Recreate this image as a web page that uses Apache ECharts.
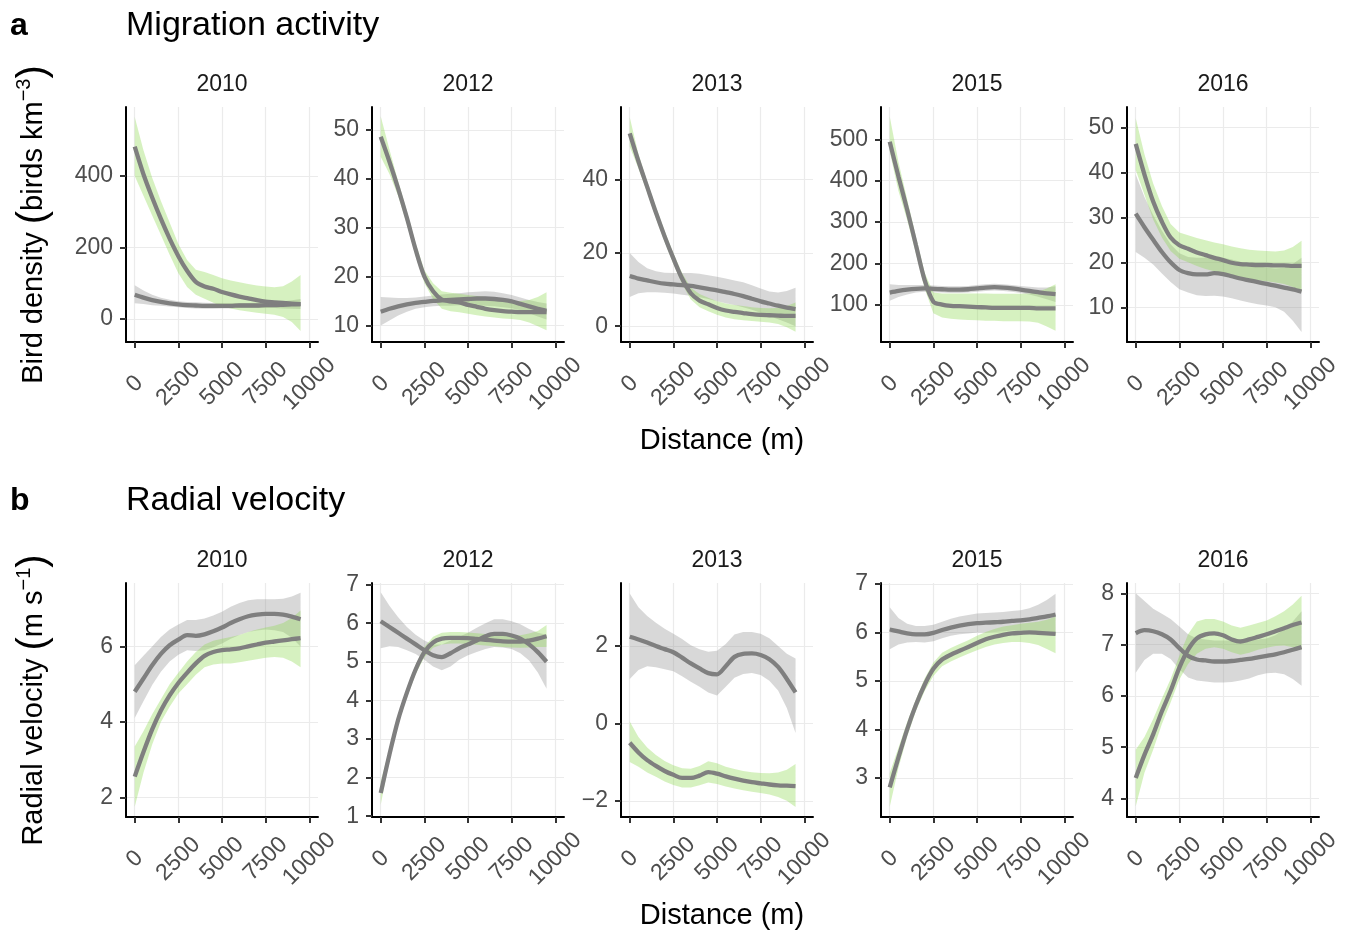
<!DOCTYPE html>
<html>
<head>
<meta charset="utf-8">
<script src="https://cdn.jsdelivr.net/npm/echarts@6/dist/echarts.min.js"></script>
<style>
  html, body { margin: 0; padding: 0; background: #ffffff; }
  #chart { width: 1349px; height: 935px; }
</style>
</head>
<body>
<div id="chart"></div>
<script>
// ---------------------------------------------------------------------------
// Data: smoothed fits with confidence bands, per year, against distance (m)
// ---------------------------------------------------------------------------
const years = ['2010', '2012', '2013', '2015', '2016'];
const distance = [0, 500, 1000, 1500, 2000, 2500, 3000, 3500, 4000, 4500,
                  5000, 5500, 6000, 6500, 7000, 7500, 8000, 8500, 9000, 9500];
const distanceTicks = [0, 2500, 5000, 7500, 10000];
const densityTicks = [[0, 200, 400], [10, 20, 30, 40, 50], [0, 20, 40],
                      [100, 200, 300, 400, 500], [10, 20, 30, 40, 50]];
const velocityTicks = [[2, 4, 6], [1, 2, 3, 4, 5, 6, 7], [-2, 0, 2],
                       [3, 4, 5, 6, 7], [4, 5, 6, 7, 8]];

// Bird density (birds km^-3)
const dens2010Green   = [482, 405, 340, 280, 225, 176, 135, 104, 91, 85, 76, 69, 63, 58, 53, 49, 47, 45, 43, 42];
const dens2010GreenHi = [565, 472, 395, 330, 270, 210, 165, 138, 132, 123, 114, 108, 103, 98, 94, 91, 89, 92, 105, 123];
const dens2010GreenLo = [400, 345, 290, 235, 180, 128, 90, 68, 57, 46, 36, 30, 25, 21, 18, 15, 12, 6, -8, -33];
const dens2010Grey    = [68, 60, 53, 48, 44, 41, 39, 38, 37, 37, 37, 37, 38, 38, 38, 39, 39, 40, 41, 42];
const dens2010GreyHi  = [95, 80, 68, 60, 54, 50, 48, 47, 46, 45, 44, 44, 45, 45, 46, 47, 48, 50, 53, 56];
const dens2010GreyLo  = [44, 42, 39, 37, 35, 33, 31, 30, 29, 29, 30, 30, 31, 31, 31, 31, 31, 30, 29, 28];

const dens2012Green   = [48.6, 43.5, 38, 32, 25.5, 20, 17, 15.3, 14.9, 14.7, 14.2, 13.8, 13.4, 13.1, 12.9, 12.8, 12.7, 12.7, 12.7, 12.7];
const dens2012GreenHi = [52.8, 46, 39.5, 33.3, 26.8, 21.3, 18.6, 17, 16.7, 16.5, 16.2, 16, 15.8, 15.5, 15.2, 15, 15, 15.2, 15.8, 16.8];
const dens2012GreenLo = [44.5, 41, 36.5, 30.7, 24.2, 18.7, 15.4, 13.4, 12.9, 12.7, 12.4, 12.1, 11.8, 11.6, 11.4, 11.3, 11.1, 10.6, 9.8, 9];
const dens2012Grey    = [12.8, 13.4, 13.9, 14.3, 14.6, 14.8, 15, 15.1, 15.2, 15.3, 15.4, 15.5, 15.5, 15.4, 15.2, 14.9, 14.4, 13.9, 13.4, 13];
const dens2012GreyHi  = [15.8, 15.7, 15.6, 15.6, 15.7, 15.9, 16.1, 16.3, 16.5, 16.6, 16.8, 16.9, 17, 16.9, 16.6, 16.2, 15.7, 15.2, 14.8, 14.5];
const dens2012GreyLo  = [10, 11, 12, 12.8, 13.4, 13.7, 13.9, 14, 14, 14.1, 14.1, 14.1, 14, 13.9, 13.7, 13.5, 13.1, 12.5, 11.8, 11.2];

const dens2013Green   = [52.6, 45, 38, 31, 24.5, 18.5, 13, 9, 7, 6, 5, 4.3, 3.9, 3.6, 3.3, 3.1, 3, 2.9, 2.8, 2.8];
const dens2013GreenHi = [57, 47, 39.5, 32.5, 26, 20, 14.5, 10.5, 8.8, 7.8, 6.8, 6.2, 5.8, 5.5, 5.2, 5, 4.9, 5, 5.5, 6.5];
const dens2013GreenLo = [49, 43, 36.5, 29.5, 23, 17, 11.5, 7.3, 5.2, 4.1, 3.1, 2.4, 1.9, 1.6, 1.4, 1.2, 1, 0.6, -0.3, -1.5];
const dens2013Grey    = [13.7, 13, 12.5, 12, 11.6, 11.4, 11.2, 11, 10.6, 10.2, 9.8, 9.3, 8.8, 8.2, 7.5, 6.8, 6.2, 5.6, 5.1, 4.7];
const dens2013GreyHi  = [20, 17.5, 15.8, 15, 14.6, 14.5, 14.5, 14.5, 14.3, 13.9, 13.5, 13, 12.5, 12, 11.2, 10.3, 9.5, 9.2, 9.6, 10.5];
const dens2013GreyLo  = [8, 9, 9.3, 9.3, 9.1, 8.9, 8.6, 8.3, 7.9, 7.4, 6.8, 6.3, 5.8, 5.2, 4.5, 3.7, 2.8, 1.9, 1, 0];

const dens2015Green   = [494, 410, 330, 245, 160, 108, 101, 98, 97, 96, 95, 94, 93, 93, 93, 93, 93, 92, 92, 92];
const dens2015GreenHi = [555, 445, 355, 265, 178, 130, 128, 128, 128, 128, 128, 128, 127, 127, 127, 127, 128, 132, 140, 150];
const dens2015GreenLo = [470, 375, 305, 225, 140, 80, 70, 67, 65, 64, 63, 62, 62, 61, 61, 61, 60, 57, 48, 38];
const dens2015Grey    = [130, 134, 137, 139, 140, 139, 138, 137, 137, 138, 140, 142, 143, 142, 140, 137, 134, 131, 128, 126];
const dens2015GreyHi  = [150, 148, 148, 148, 148, 147, 146, 145, 145, 146, 148, 150, 151, 150, 148, 146, 144, 142, 142, 145];
const dens2015GreyLo  = [110, 119, 125, 130, 132, 131, 130, 129, 129, 130, 132, 134, 135, 134, 132, 129, 125, 120, 114, 107];

const dens2016Green   = [46.3, 39.5, 33.5, 29, 25.5, 23.8, 23, 22.2, 21.6, 21, 20.5, 19.9, 19.6, 19.5, 19.4, 19.4, 19.3, 19.3, 19.2, 19.2];
const dens2016GreenHi = [52, 44, 37.5, 32.5, 28.5, 26.6, 26, 25.4, 24.9, 24.4, 24, 23.5, 23.1, 22.8, 22.6, 22.5, 22.4, 22.6, 23.4, 24.8];
const dens2016GreenLo = [40.5, 35, 29.5, 25.5, 22.5, 20.8, 20, 19.2, 18.5, 18, 17.5, 16.9, 16.5, 16.2, 16, 15.8, 15.5, 15.2, 14.5, 13.6];
const dens2016Grey    = [30.8, 27.8, 25, 22.3, 20, 18.3, 17.6, 17.3, 17.3, 17.6, 17.4, 16.9, 16.4, 16, 15.6, 15.2, 14.8, 14.4, 14, 13.5];
const dens2016GreyHi  = [39.5, 34.5, 30.5, 27, 24, 22, 21.2, 21, 21, 21, 21, 20.6, 20.1, 19.6, 19.2, 18.8, 18.6, 18.8, 19.6, 21];
const dens2016GreyLo  = [22.3, 21, 19.5, 17.5, 15.6, 14, 13.3, 12.7, 12.5, 12.6, 12.4, 12, 11.5, 11.1, 10.7, 10.4, 10, 9, 7, 4.5];

// Radial velocity (m s^-1)
const vel2010Green   = [2.55, 3.2, 3.8, 4.3, 4.7, 5.03, 5.3, 5.55, 5.75, 5.85, 5.9, 5.92, 5.95, 6, 6.05, 6.1, 6.13, 6.16, 6.19, 6.22];
const vel2010GreenHi = [3.35, 3.75, 4.2, 4.6, 5, 5.3, 5.6, 5.85, 6.05, 6.15, 6.2, 6.25, 6.3, 6.38, 6.45, 6.5, 6.55, 6.62, 6.75, 6.95];
const vel2010GreenLo = [1.75, 2.65, 3.4, 4, 4.4, 4.75, 5, 5.25, 5.45, 5.52, 5.55, 5.55, 5.58, 5.62, 5.66, 5.7, 5.72, 5.7, 5.6, 5.45];
const vel2010Grey    = [4.8, 5.15, 5.5, 5.8, 6.03, 6.18, 6.3, 6.28, 6.32, 6.4, 6.5, 6.62, 6.72, 6.8, 6.84, 6.86, 6.86, 6.84, 6.79, 6.72];
const vel2010GreyHi  = [5.5, 5.75, 6, 6.25, 6.45, 6.58, 6.7, 6.7, 6.74, 6.82, 6.92, 7.05, 7.15, 7.22, 7.25, 7.25, 7.25, 7.26, 7.32, 7.42];
const vel2010GreyLo  = [4.1, 4.55, 4.98, 5.33, 5.6, 5.78, 5.9, 5.88, 5.9, 5.98, 6.08, 6.2, 6.3, 6.38, 6.42, 6.45, 6.43, 6.38, 6.23, 6];

const vel2012Green   = [1.6, 2.6, 3.5, 4.2, 4.8, 5.25, 5.5, 5.6, 5.62, 5.62, 5.61, 5.59, 5.57, 5.55, 5.53, 5.52, 5.52, 5.55, 5.6, 5.66];
const vel2012GreenHi = [1.9, 2.75, 3.62, 4.32, 4.92, 5.38, 5.65, 5.75, 5.77, 5.77, 5.76, 5.74, 5.72, 5.7, 5.68, 5.68, 5.69, 5.73, 5.8, 5.95];
const vel2012GreenLo = [1.3, 2.45, 3.38, 4.08, 4.68, 5.12, 5.36, 5.45, 5.47, 5.47, 5.46, 5.44, 5.42, 5.4, 5.38, 5.37, 5.36, 5.37, 5.38, 5.38];
const vel2012Grey    = [6.05, 5.9, 5.75, 5.6, 5.45, 5.3, 5.17, 5.12, 5.22, 5.35, 5.45, 5.55, 5.66, 5.72, 5.72, 5.68, 5.6, 5.45, 5.25, 5];
const vel2012GreyHi  = [6.8, 6.45, 6.15, 5.9, 5.7, 5.55, 5.45, 5.45, 5.55, 5.65, 5.75, 5.88, 6, 6.1, 6.1, 6.05, 5.97, 5.85, 5.75, 5.7];
const vel2012GreyLo  = [5.35, 5.4, 5.38, 5.3, 5.2, 5.05, 4.88, 4.78, 4.88, 5.05, 5.17, 5.25, 5.33, 5.38, 5.37, 5.33, 5.22, 5.03, 4.72, 4.3];

const vel2013Green   = [-0.5, -0.75, -0.95, -1.1, -1.23, -1.33, -1.41, -1.41, -1.35, -1.26, -1.3, -1.37, -1.43, -1.48, -1.52, -1.55, -1.58, -1.6, -1.61, -1.62];
const vel2013GreenHi = [0.05, -0.35, -0.62, -0.82, -0.97, -1.08, -1.16, -1.17, -1.1, -0.98, -1.03, -1.12, -1.18, -1.23, -1.26, -1.28, -1.29, -1.27, -1.2, -1.05];
const vel2013GreenLo = [-1, -1.12, -1.27, -1.38, -1.5, -1.59, -1.66, -1.66, -1.6, -1.53, -1.57, -1.63, -1.68, -1.73, -1.77, -1.8, -1.84, -1.9, -2, -2.16];
const vel2013Grey    = [2.24, 2.17, 2.09, 2, 1.92, 1.84, 1.7, 1.55, 1.42, 1.3, 1.27, 1.48, 1.72, 1.8, 1.81, 1.77, 1.66, 1.46, 1.15, 0.8];
const vel2013GreyHi  = [3.36, 3, 2.78, 2.6, 2.45, 2.32, 2.18, 2.02, 1.92, 1.85, 1.88, 2.05, 2.3, 2.36, 2.36, 2.32, 2.2, 2, 1.8, 1.68];
const vel2013GreyLo  = [1.15, 1.38, 1.48, 1.45, 1.4, 1.35, 1.22, 1.08, 0.95, 0.8, 0.72, 0.95, 1.18, 1.28, 1.3, 1.25, 1.1, 0.85, 0.4, -0.25];

const vel2015Green   = [2.8, 3.42, 4, 4.5, 4.92, 5.25, 5.44, 5.54, 5.62, 5.7, 5.78, 5.86, 5.91, 5.95, 5.98, 5.99, 6, 5.99, 5.98, 5.97];
const vel2015GreenHi = [3.1, 3.62, 4.15, 4.62, 5.05, 5.38, 5.58, 5.68, 5.76, 5.84, 5.93, 6.01, 6.07, 6.12, 6.15, 6.18, 6.2, 6.22, 6.26, 6.33];
const vel2015GreenLo = [2.4, 3.2, 3.85, 4.38, 4.79, 5.1, 5.3, 5.4, 5.48, 5.56, 5.63, 5.7, 5.75, 5.78, 5.8, 5.8, 5.78, 5.74, 5.66, 5.57];
const vel2015Grey    = [6.06, 6.02, 5.98, 5.96, 5.96, 5.99, 6.05, 6.1, 6.14, 6.17, 6.19, 6.2, 6.21, 6.22, 6.24, 6.25, 6.27, 6.3, 6.33, 6.37];
const vel2015GreyHi  = [6.52, 6.3, 6.18, 6.13, 6.13, 6.16, 6.22, 6.28, 6.33, 6.36, 6.39, 6.4, 6.41, 6.42, 6.44, 6.46, 6.5, 6.57, 6.67, 6.8];
const vel2015GreyLo  = [5.65, 5.75, 5.79, 5.8, 5.79, 5.82, 5.88, 5.93, 5.96, 5.98, 6, 6, 6.01, 6.02, 6.04, 6.04, 6.04, 6.03, 6, 5.95];

const vel2016Green   = [4.4, 4.85, 5.25, 5.7, 6.1, 6.55, 6.9, 7.12, 7.2, 7.22, 7.18, 7.1, 7.06, 7.1, 7.15, 7.2, 7.26, 7.32, 7.38, 7.43];
const vel2016GreenHi = [4.95, 5.2, 5.55, 5.95, 6.33, 6.78, 7.2, 7.45, 7.5, 7.5, 7.45, 7.37, 7.33, 7.37, 7.42, 7.47, 7.55, 7.65, 7.78, 7.95];
const vel2016GreenLo = [3.85, 4.5, 4.95, 5.45, 5.87, 6.32, 6.62, 6.82, 6.92, 6.95, 6.92, 6.85, 6.8, 6.84, 6.9, 6.94, 6.97, 6.98, 6.95, 6.9];
const vel2016Grey    = [7.22, 7.28, 7.26, 7.2, 7.1, 6.93, 6.78, 6.71, 6.69, 6.67, 6.67, 6.68, 6.7, 6.72, 6.75, 6.78, 6.81, 6.85, 6.9, 6.95];
const vel2016GreyHi  = [8, 7.85, 7.7, 7.6, 7.5, 7.35, 7.2, 7.12, 7.1, 7.08, 7.08, 7.08, 7.09, 7.1, 7.1, 7.12, 7.18, 7.3, 7.45, 7.65];
const vel2016GreyLo  = [6.45, 6.7, 6.82, 6.82, 6.72, 6.52, 6.36, 6.3, 6.28, 6.26, 6.26, 6.27, 6.3, 6.34, 6.4, 6.44, 6.45, 6.42, 6.33, 6.2];

// ---------------------------------------------------------------------------
// Panel assembly
// ---------------------------------------------------------------------------
const densitySets = [
  [dens2010Grey, dens2010GreyLo, dens2010GreyHi, dens2010Green, dens2010GreenLo, dens2010GreenHi],
  [dens2012Grey, dens2012GreyLo, dens2012GreyHi, dens2012Green, dens2012GreenLo, dens2012GreenHi],
  [dens2013Grey, dens2013GreyLo, dens2013GreyHi, dens2013Green, dens2013GreenLo, dens2013GreenHi],
  [dens2015Grey, dens2015GreyLo, dens2015GreyHi, dens2015Green, dens2015GreenLo, dens2015GreenHi],
  [dens2016Grey, dens2016GreyLo, dens2016GreyHi, dens2016Green, dens2016GreenLo, dens2016GreenHi]
];
const velocitySets = [
  [vel2010Grey, vel2010GreyLo, vel2010GreyHi, vel2010Green, vel2010GreenLo, vel2010GreenHi],
  [vel2012Grey, vel2012GreyLo, vel2012GreyHi, vel2012Green, vel2012GreenLo, vel2012GreenHi],
  [vel2013Grey, vel2013GreyLo, vel2013GreyHi, vel2013Green, vel2013GreenLo, vel2013GreenHi],
  [vel2015Grey, vel2015GreyLo, vel2015GreyHi, vel2015Green, vel2015GreenLo, vel2015GreenHi],
  [vel2016Grey, vel2016GreyLo, vel2016GreyHi, vel2016Green, vel2016GreenLo, vel2016GreenHi]
];

// y ranges include a 5% expansion around the bands
const densityRange  = [[-64, 593], [6.6, 54.7], [-4.3, 59.8], [10.6, 578], [2.3, 54.5]];
const velocityRange = [[1.48, 7.68], [0.98, 7.04], [-2.42, 3.63], [2.19, 7.02], [3.64, 8.2]];

const FONT = "'Liberation Sans', Arial, Helvetica, sans-serif";
const colLeft = [126, 372, 621, 881, 1127];
const plotWidth = 192;
const rowTop = [107, 583];
const rowHeight = [235, 234];
const LINE_COLOR = '#7f7f7f';
const GREY_FILL = 'rgba(153, 153, 153, 0.38)';
const GREEN_FILL = 'rgba(140, 215, 80, 0.36)';
const TICK_FONT = 23;
const plain = v => String(v).replace('-', '\u2212');

const grids = [], xAxes = [], yAxes = [], series = [], graphics = [];

function bandSeries(idx, lo, hi, fill) {
  return {
    type: 'custom',
    coordinateSystem: 'cartesian2d',
    xAxisIndex: idx, yAxisIndex: idx,
    silent: true,
    data: distance.map((d, i) => [d, lo[i], hi[i]]),
    encode: { x: 0, y: [1, 2] },
    renderItem: (params, api) => {
      if (params.dataIndex !== 0) return null;
      const upper = distance.map((d, i) => api.coord([d, hi[i]]));
      const lower = distance.map((d, i) => api.coord([d, lo[i]])).reverse();
      return {
        type: 'polygon',
        shape: { points: upper.concat(lower) },
        style: { fill: fill, stroke: null }
      };
    }
  };
}

function lineSeries(idx, fit) {
  return {
    type: 'line',
    xAxisIndex: idx, yAxisIndex: idx,
    data: distance.map((d, i) => [d, fit[i]]),
    showSymbol: false, symbol: 'none',
    smooth: 0.3,
    silent: true,
    lineStyle: { color: LINE_COLOR, width: 4.3, cap: 'butt' }
  };
}

function addPanel(row, col, sets, range, ticks, yName) {
  const idx = grids.length;
  grids.push({ left: colLeft[col], top: rowTop[row], width: plotWidth, height: rowHeight[row] });
  xAxes.push({
    gridIndex: idx, type: 'value', min: -500, max: 10500,
    axisLine: { show: true, onZero: false, lineStyle: { color: '#000', width: 2 } },
    axisTick: { show: true, customValues: distanceTicks, length: 6, lineStyle: { color: '#333', width: 2 } },
    axisLabel: { customValues: distanceTicks, rotate: 45, align: 'center', verticalAlign: 'middle',
                 margin: 42, fontSize: TICK_FONT, color: '#4d4d4d', fontFamily: FONT, interval: 0,
                 formatter: plain },
    splitLine: { show: true, lineStyle: { color: '#ebebeb', width: 1.2 } }
  });
  const yAxis = {
    gridIndex: idx, type: 'value', min: range[0], max: range[1],
    axisLine: { show: true, onZero: false, lineStyle: { color: '#000', width: 2 } },
    axisTick: { show: true, customValues: ticks, length: 6, lineStyle: { color: '#333', width: 2 } },
    axisLabel: { customValues: ticks, margin: 13, fontSize: TICK_FONT, color: '#4d4d4d', fontFamily: FONT,
                 formatter: plain },
    splitLine: { show: true, lineStyle: { color: '#ebebeb', width: 1.2 } }
  };
  if (yName) {
    Object.assign(yAxis, {
      name: yName, nameLocation: 'middle', nameRotate: 90, nameGap: 72,
      nameTextStyle: {
        color: '#000', fontFamily: FONT, fontSize: 29,
        rich: {
          t: { fontSize: 29, fontFamily: FONT, color: '#000' },
          p: { fontSize: 40, fontFamily: FONT, color: '#000' },
          s: { fontSize: 20, fontFamily: FONT, color: '#000', verticalAlign: 'top' }
        }
      }
    });
  }
  yAxes.push(yAxis);

  const [grey, greyLo, greyHi, green, greenLo, greenHi] = sets;
  series.push(bandSeries(idx, greyLo, greyHi, GREY_FILL));
  series.push(lineSeries(idx, grey));
  series.push(bandSeries(idx, greenLo, greenHi, GREEN_FILL));
  series.push(lineSeries(idx, green));

  // facet strip label
  graphics.push({
    type: 'text', x: colLeft[col] + plotWidth / 2, y: rowTop[row] - 22,
    style: { text: years[col], fill: '#1a1a1a', font: '23px ' + FONT, textAlign: 'center', textVerticalAlign: 'middle' }
  });
}

for (let c = 0; c < 5; c++) {
  addPanel(0, c, densitySets[c], densityRange[c], densityTicks[c],
           c === 0 ? '{t|Bird density }{p|(}{t|birds km}{s|\u22123}{p|)}' : null);
}
for (let c = 0; c < 5; c++) {
  addPanel(1, c, velocitySets[c], velocityRange[c], velocityTicks[c],
           c === 0 ? '{t|Radial velocity }{p|(}{t|m s}{s|\u22121}{p|)}' : null);
}

// Panel tags, section titles and shared x-axis titles
const headings = [
  { tag: 'a', title: 'Migration activity', y: 26, axisY: 441 },
  { tag: 'b', title: 'Radial velocity', y: 501, axisY: 916 }
];
headings.forEach(h => {
  graphics.push({ type: 'text', x: 10, y: h.y,
    style: { text: h.tag, fill: '#000', font: 'bold 32px ' + FONT, textAlign: 'left', textVerticalAlign: 'middle' } });
  graphics.push({ type: 'text', x: 126, y: h.y,
    style: { text: h.title, fill: '#000', font: '34px ' + FONT, textAlign: 'left', textVerticalAlign: 'middle' } });
  graphics.push({ type: 'text', x: 722, y: h.axisY,
    style: { text: 'Distance (m)', fill: '#000', font: '29px ' + FONT, textAlign: 'center', textVerticalAlign: 'middle' } });
});

const chart = echarts.init(document.getElementById('chart'), null, { renderer: 'canvas' });
chart.setOption({
  backgroundColor: '#ffffff',
  animation: false,
  grid: grids,
  xAxis: xAxes,
  yAxis: yAxes,
  series: series,
  graphic: graphics
});
</script>
</body>
</html>
